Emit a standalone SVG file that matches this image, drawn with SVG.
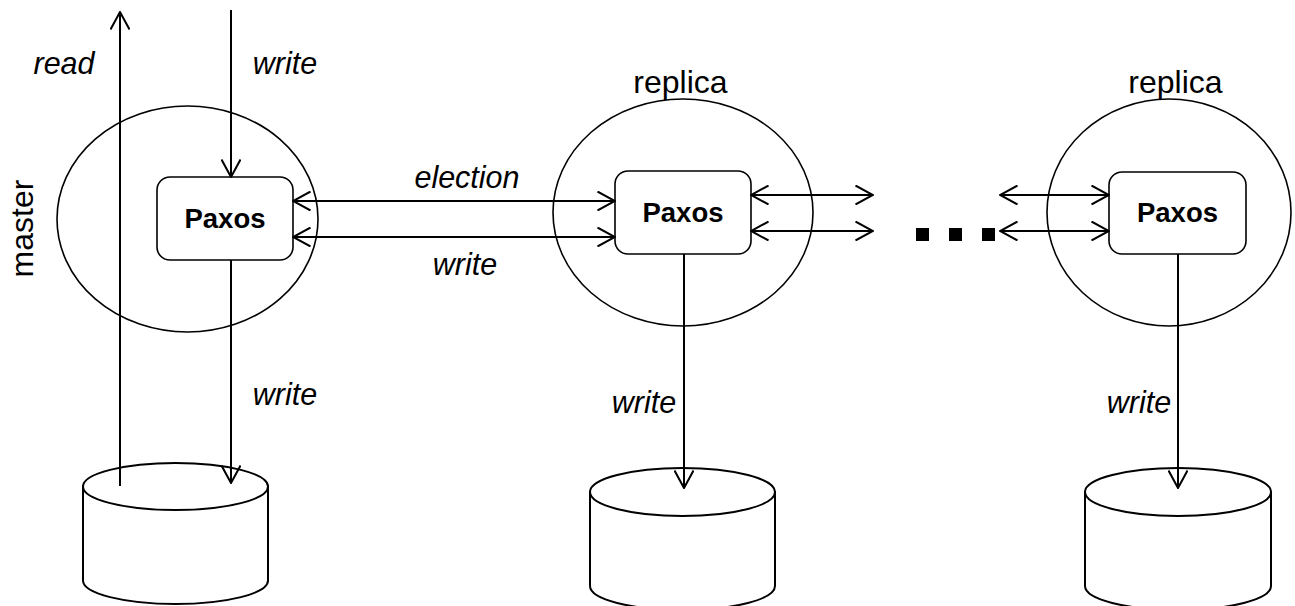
<svg xmlns="http://www.w3.org/2000/svg" width="1295" height="606" viewBox="0 0 1295 606">
<style>
text{font-family:"Liberation Sans",Arial,Helvetica,sans-serif;fill:#000}
.lbl{font-size:30.5px;font-style:italic}
.name{font-size:32px}
.px{font-size:27.5px;font-weight:bold}
.ell{fill:none;stroke:#000;stroke-width:1.6}
.box{fill:#fff;stroke:#000;stroke-width:1.6}
.cyl{fill:#fff;stroke:#000;stroke-width:2}
.ln{fill:none;stroke:#000;stroke-width:2}
</style>
<defs>
<marker id="arr" viewBox="0 0 20 20" refX="19" refY="10" markerWidth="20" markerHeight="20" orient="auto-start-reverse" markerUnits="userSpaceOnUse">
<path d="M1.5,0.5 L19,10 L1.5,19.5" fill="none" stroke="#000" stroke-width="2"/>
</marker>
</defs>
<rect width="1295" height="606" fill="#fff"/>

<g id="master">
<ellipse class="ell" cx="187.5" cy="219" rx="130.5" ry="113"/>
<text class="name" transform="translate(33,228.5) rotate(-90)" text-anchor="middle">master</text>
</g>
<g id="replica1">
<ellipse class="ell" cx="683" cy="212.5" rx="130" ry="113.5"/>
<text class="name" x="680.5" y="93" text-anchor="middle">replica</text>
</g>
<g id="replica2">
<ellipse class="ell" cx="1169" cy="212.5" rx="122" ry="113.5"/>
<text class="name" x="1175.5" y="93" text-anchor="middle">replica</text>
</g>

<g id="paxos-master">
<rect class="box" x="157" y="177" width="136" height="83" rx="13"/>
<text class="px" x="225" y="228" text-anchor="middle">Paxos</text>
</g>
<g id="paxos-replica1">
<rect class="box" x="615" y="171" width="136" height="83" rx="13"/>
<text class="px" x="683" y="222" text-anchor="middle">Paxos</text>
</g>
<g id="paxos-replica2">
<rect class="box" x="1109" y="172" width="137" height="82" rx="13"/>
<text class="px" x="1177.5" y="222" text-anchor="middle">Paxos</text>
</g>

<g id="db-master">
<path class="cyl" d="M83,486.5 L83,580.5 A92.5,23.5 0 0 0 268,580.5 L268,486.5 Z"/>
<ellipse class="cyl" cx="175.5" cy="486.5" rx="92.5" ry="23.5"/>
</g>
<g id="db-replica1">
<path class="cyl" d="M590,492 L590,586 A92.5,24 0 0 0 775,586 L775,492 Z"/>
<ellipse class="cyl" cx="682.5" cy="492" rx="92.5" ry="24"/>
</g>
<g id="db-replica2">
<path class="cyl" d="M1085,492 L1085,586 A93,24 0 0 0 1271,586 L1271,492 Z"/>
<ellipse class="cyl" cx="1178" cy="492" rx="93" ry="24"/>
</g>

<g id="ellipsis">
<rect x="916" y="228" width="13" height="13" fill="#000"/>
<rect x="949" y="228" width="13" height="13" fill="#000"/>
<rect x="982" y="228" width="13" height="13" fill="#000"/>
</g>

<g id="connectors">
<line class="ln" x1="120" y1="486" x2="120" y2="12" marker-end="url(#arr)"/>
<line class="ln" x1="231" y1="10" x2="231" y2="177" marker-end="url(#arr)"/>
<line class="ln" x1="231" y1="260" x2="231" y2="483" marker-end="url(#arr)"/>
<line class="ln" x1="293" y1="201" x2="615" y2="201" marker-start="url(#arr)" marker-end="url(#arr)"/>
<line class="ln" x1="293" y1="237" x2="615" y2="237" marker-start="url(#arr)" marker-end="url(#arr)"/>
<line class="ln" x1="751" y1="195" x2="873" y2="195" marker-start="url(#arr)" marker-end="url(#arr)"/>
<line class="ln" x1="751" y1="231" x2="873" y2="231" marker-start="url(#arr)" marker-end="url(#arr)"/>
<line class="ln" x1="1000" y1="195" x2="1109" y2="195" marker-start="url(#arr)" marker-end="url(#arr)"/>
<line class="ln" x1="1000" y1="231" x2="1109" y2="231" marker-start="url(#arr)" marker-end="url(#arr)"/>
<line class="ln" x1="684" y1="254" x2="684" y2="488" marker-end="url(#arr)"/>
<line class="ln" x1="1178" y1="254" x2="1178" y2="488" marker-end="url(#arr)"/>
</g>

<g id="labels">
<text class="lbl" x="64" y="74" text-anchor="middle">read</text>
<text class="lbl" x="285" y="74" text-anchor="middle">write</text>
<text class="lbl" x="467" y="188" text-anchor="middle">election</text>
<text class="lbl" x="465" y="275" text-anchor="middle">write</text>
<text class="lbl" x="285" y="405" text-anchor="middle">write</text>
<text class="lbl" x="644" y="413" text-anchor="middle">write</text>
<text class="lbl" x="1139" y="413" text-anchor="middle">write</text>
</g>
</svg>
